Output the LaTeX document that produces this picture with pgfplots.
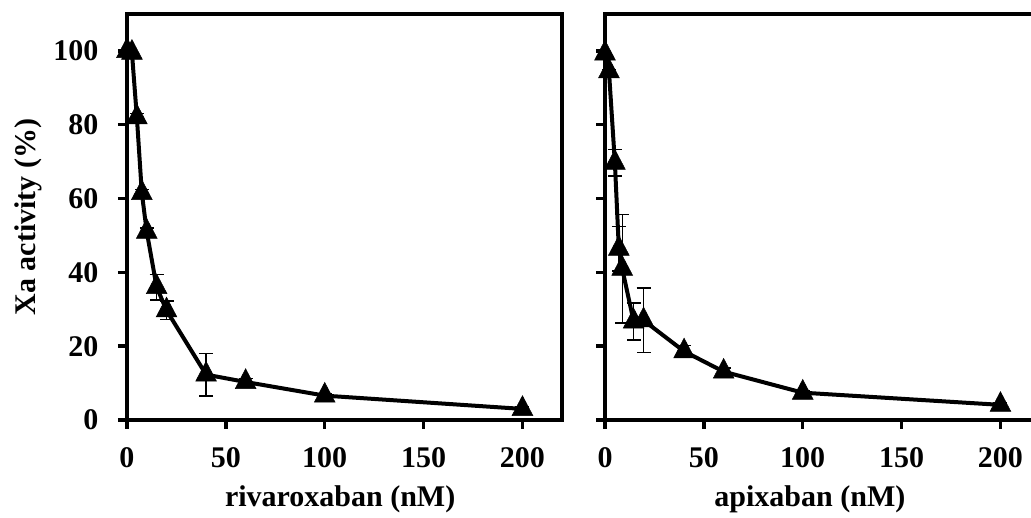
\documentclass[border=0pt]{standalone}
\usepackage{fontspec}
\setmainfont{Liberation Serif}
\usepackage{pgfplots}
\usepackage{pgfplotstable}
\pgfplotsset{compat=1.18}
\pgfplotstableread{
x y e
0 100 0
2.5 99.5 0
5 82 1
7.5 61.5 1
10 51 1
15 36 3.5
20 29.7 2.5
40 12.3 5.8
60 10.3 1
100 6.6 0.5
200 3.0 0.5
}\riva
\pgfplotstableread{
x y e
0 99.3 0
2 94.5 0.5
5 69.7 3.6
7 46.4 6
8.7 41 14.7
14.5 26.7 5
19.5 27 8.8
40 18.6 1.5
60 13.1 1
100 7.4 0.5
200 4.1 0.5
}\apix
\pgfplotsset{
  panel/.style={
    scale only axis, width=435pt, height=406pt,
    anchor=south west,
    xmin=0, xmax=220, ymin=0, ymax=110,
    xtick={0,50,100,150,200}, ytick={0,20,40,60,80,100},
    tick align=outside, xtick pos=left, ytick pos=left,
    major tick length=9pt,
    tick style={line width=3.5pt, black},
    axis line style={line width=4.5pt},
    clip=false,
    /pgf/number format/assume math mode=true,
    ticklabel style={font=\fontsize{30}{30}\selectfont\bfseries},
    xticklabel style={yshift=-15pt},
    yticklabel style={xshift=-16pt},
    label style={font=\fontsize{30}{30}\selectfont\bfseries},
  },
}
\begin{document}
\begin{tikzpicture}
\useasboundingbox (0,0) rectangle (1031pt,518pt);
\begin{axis}[panel, at={(127pt,98pt)},
  xlabel={rivaroxaban (nM)}, ylabel={Xa activity (\%)},
  xlabel style={at={(axis description cs:0.49,-0.195)}, anchor=center},
  ylabel style={at={(axis description cs:-0.2276,0.5)}, anchor=center},
]
\addplot[black, line width=4pt, mark=triangle*, mark size=12pt,
  mark options={solid, fill=black, line width=0.5pt, yscale=1.1},
  error bars/.cd, y dir=both, y explicit,
  error bar style={line width=1.3pt},
  error mark options={rotate=90, mark size=7pt, line width=1.3pt}]
  table[x=x, y=y, y error=e] {\riva};
\end{axis}
\begin{axis}[panel, at={(605pt,98pt)},
  yticklabels={},
  xlabel={apixaban (nM)},
  xlabel style={at={(axis description cs:0.471,-0.195)}, anchor=center},
]
\addplot[black, line width=4pt, mark=triangle*, mark size=12pt,
  mark options={solid, fill=black, line width=0.5pt, yscale=1.1},
  error bars/.cd, y dir=both, y explicit,
  error bar style={line width=1.3pt},
  error mark options={rotate=90, mark size=7pt, line width=1.3pt}]
  table[x=x, y=y, y error=e] {\apix};
\end{axis}
\end{tikzpicture}
\end{document}
